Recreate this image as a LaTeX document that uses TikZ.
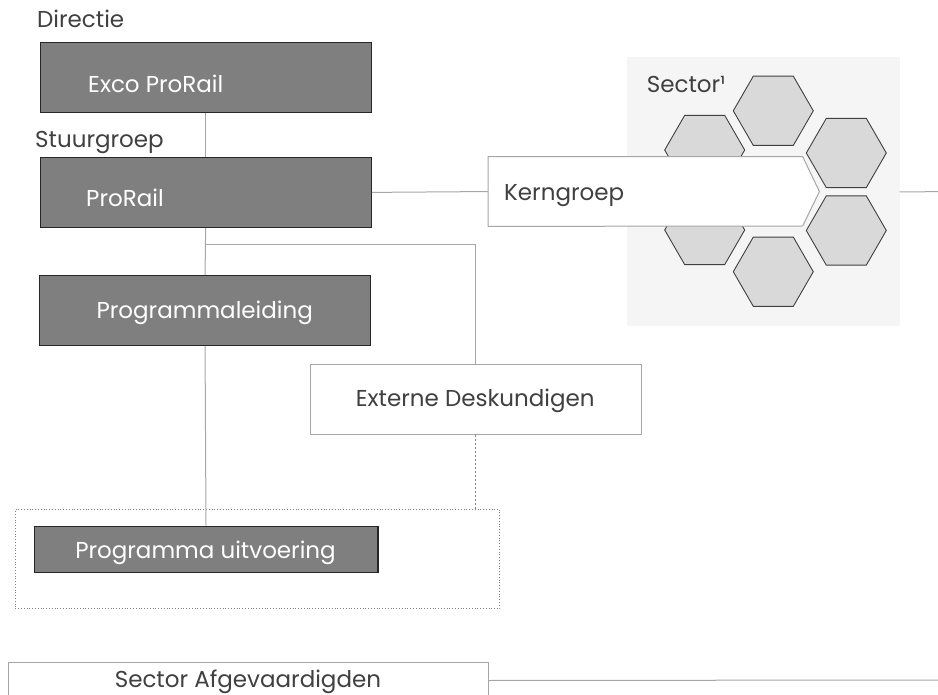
\documentclass[tikz,border=0pt]{standalone}
\usepackage{fontspec}
\setmainfont{Poppins}
\usetikzlibrary{shapes.geometric}
\definecolor{boxfill}{HTML}{7F7F7F}
\definecolor{boxdraw}{HTML}{262626}
\definecolor{linegray}{HTML}{A6A6A6}
\definecolor{panelgray}{HTML}{F5F5F5}
\definecolor{hexfill}{HTML}{D9D9D9}
\definecolor{hexdraw}{HTML}{404040}
\definecolor{txtgray}{HTML}{404040}
\begin{document}
\begin{tikzpicture}[x=1pt,y=-1pt,
  darkbox/.style={draw=boxdraw,fill=boxfill,line width=1.1pt,inner sep=0pt,anchor=north west},
  whitebox/.style={draw=linegray,fill=white,line width=1pt,inner sep=0pt,anchor=north west},
  wtxt/.style={text=white,inner sep=0pt,anchor=base west,font=\fontsize{23}{27}\selectfont},
  gtxt/.style={text=txtgray,inner sep=0pt,anchor=base west,font=\fontsize{23}{27}\selectfont},
  conn/.style={draw=linegray,line width=1pt},
  hexa/.style={regular polygon,regular polygon sides=6,minimum size=80pt,inner sep=0pt,draw=hexdraw,fill=hexfill,line width=0.9pt}
]
\useasboundingbox (0,0) rectangle (938,695);
\clip (0,0) rectangle (938,695);

% right panel with hexagons
\node[fill=panelgray,inner sep=0pt,minimum width=272.6pt,minimum height=268.7pt,anchor=north west] (panel) at (626.7,57.3) {};
\node[hexa] (h1) at (773.3,110.8) {};
\node[hexa] (h2) at (704.7,150) {};
\node[hexa] (h3) at (846.3,153) {};
\node[hexa] (h4) at (846.3,230.5) {};
\node[hexa] (h5) at (773.3,271.7) {};
\node[hexa] (h6) at (704.7,230) {};
\node[gtxt] (sectorlbl) at (646.7,92.7) {Sector¹};

% Kerngroep chevron
\node[inner sep=0pt,minimum width=331pt,minimum height=69.3pt,anchor=north west] (kern) at (488,156.7) {};
\draw[draw=linegray,fill=white,line width=1pt] (kern.north west) -- (802.7,156.7) -- (kern.east) -- (802.7,226) -- (kern.south west) -- cycle;
\node[gtxt] (kerntxt) at (504,201) {Kerngroep};
\coordinate (r1) at (938,191.7);
\draw[conn] (panel.east) -- (r1);

% left column
\node[gtxt] (directie) at (37,27.3) {Directie};
\node[darkbox,minimum width=331.2pt,minimum height=70pt] (exco) at (39.5,42.3) {};
\node[wtxt] (excotxt) at (88,93) {Exco ProRail};

\node[gtxt] (stuur) at (35,147.3) {Stuurgroep};
\node[darkbox,minimum width=331.2pt,minimum height=70.3pt] (prorail) at (39.5,156.7) {};
\node[wtxt] (prorailtxt) at (86,207) {ProRail};

\node[darkbox,minimum width=331pt,minimum height=69.7pt] (prog) at (39,275) {};
\node[wtxt,anchor=base] (progtxt) at (204.7,318.3) {Programmaleiding};

\node[whitebox,minimum width=330.7pt,minimum height=70pt] (ext) at (309.8,364) {};
\node[gtxt,anchor=base] (exttxt) at (475.2,406.7) {Externe Deskundigen};

\node[draw=gray,dotted,line width=0.8pt,inner sep=0pt,minimum width=484.4pt,minimum height=99pt,anchor=north west] (grp) at (15,509) {};
\node[darkbox,minimum width=343.9pt,minimum height=46.6pt] (pu) at (33.5,525.7) {};
\node[wtxt,anchor=base] (putxt) at (205.5,558.3) {Programma uitvoering};

\node[whitebox,minimum width=479.1pt,minimum height=36.6pt] (sa) at (8.4,661.7) {};
\node[gtxt,anchor=base] (satxt) at (247.9,687.7) {Sector Afgevaardigden};
\coordinate (r2) at (938,680);

% connectors
\draw[conn] (exco.south) -- (prorail.north);
\draw[conn] (prorail.east) -- (kern.west);
\draw[conn] (prorail.south) -- (prog.north);
\coordinate (br) at (205.1,245);
\draw[conn] (br) -| (ext.north);
\draw[conn] (prog.south) -- (pu.north);
\draw[draw=gray,line width=0.8pt,dash pattern=on 2pt off 2pt] (ext.south) -- (ext.south |- grp.north);
\draw[conn] (sa.east) -- (r2);
\end{tikzpicture}
\end{document}
